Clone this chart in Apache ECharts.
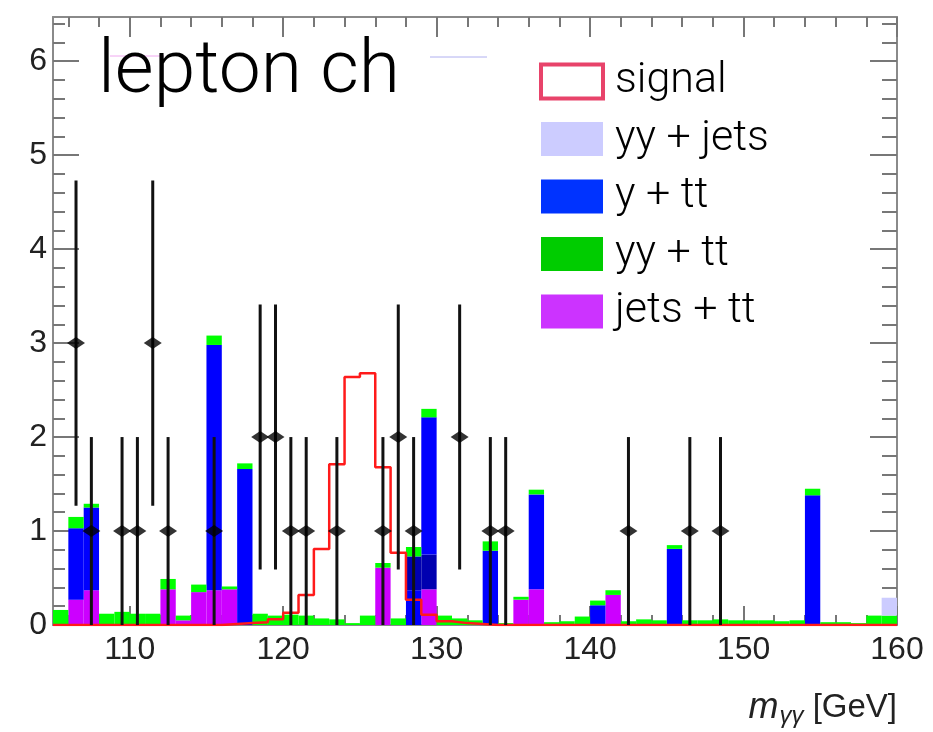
<!DOCTYPE html>
<html>
<head>
<meta charset="utf-8">
<script src="https://cdn.jsdelivr.net/npm/echarts@6/dist/echarts.min.js"></script>
<style>html,body{margin:0;padding:0;background:#fff}#c{width:933px;height:732px}</style>
</head>
<body>
<div id="c"></div>
<script>
// ---- bin edges (GeV), 55 bins of 1 GeV ----
const binEdges = [105,106,107,108,109,110,111,112,113,114,
                  115,116,117,118,119,120,121,122,123,124,
                  125,126,127,128,129,130,131,132,133,134,
                  135,136,137,138,139,140,141,142,143,144,
                  145,146,147,148,149,150,151,152,153,154,
                  155,156,157,158,159,160];

// ---- stacked backgrounds (per-bin contributions) ----
const jetsTT = [0,0.27,0.37,0,0,0,0,0.38,0.05,0.35,
                0.37,0.38,0,0,0,0,0,0,0,0,
                0,0.61,0,0,0.38,0,0,0,0,0,
                0.27,0.38,0,0,0,0,0.32,0,0,0,
                0,0,0,0,0,0,0,0,0,0,
                0,0,0,0,0];
const lowBlueBkg = [0,0,0,0,0,0,0,0,0,0,
                    0,0,0,0,0,0,0,0,0,0,
                    0,0,0,0.37,0,0,0,0,0,0,
                    0,0,0,0,0,0,0,0,0,0,
                    0,0,0,0,0,0,0,0,0,0,
                    0,0,0,0,0];
const darkBlueBkg = [0,0,0,0,0,0,0,0,0,0,
                     0,0,0,0,0,0,0,0,0,0,
                     0,0,0,0.36,0.37,0,0,0,0,0,
                     0,0,0,0,0,0,0,0,0,0,
                     0,0,0,0,0,0,0,0,0,0,
                     0,0,0,0,0];
const yTT = [0,0.76,0.88,0,0,0,0,0,0,0,
             2.61,0,1.66,0,0,0,0,0,0,0,
             0,0,0,0,1.46,0,0,0,0.79,0,
             0,1.01,0,0,0,0.21,0,0,0,0,
             0.81,0,0,0,0,0,0,0,0,1.38,
             0,0,0,0,0];
const yyTT = [0.16,0.12,0.04,0.12,0.14,0.12,0.12,0.11,0.05,0.08,
              0.10,0.03,0.06,0.12,0.10,0.11,0.10,0.07,0.06,0.02,
              0.10,0.05,0.07,0.10,0.09,0.10,0.07,0.05,0.10,0.02,
              0.03,0.05,0.03,0.04,0.09,0.05,0.05,0.04,0.06,0.05,
              0.04,0.05,0.05,0.06,0.05,0.05,0.05,0.04,0.05,0.07,
              0.03,0.03,0.02,0.10,0.10];
const yyJets = [0,0,0,0,0,0,0,0,0,0,
                0,0,0,0,0,0,0,0,0,0,
                0,0,0,0,0,0,0,0,0,0,
                0,0,0,0,0,0,0,0,0,0,
                0,0,0,0,0,0,0,0,0,0,
                0,0,0,0,0.19];

// ---- signal (outline histogram) ----
const signal = [0,0,0,0,0,0,0,0,0,0,
                0,0.01,0.02,0.03,0.06,0.13,0.32,0.81,1.71,2.64,
                2.68,1.68,0.77,0.27,0.11,0.04,0.02,0.01,0,0,
                0,0,0,0,0,0,0,0,0,0,
                0,0,0,0,0,0,0,0,0,0,
                0,0,0,0,0];

// ---- data points ----
const dataX = [106.5,107.5,109.5,110.5,111.5,112.5,115.5,118.5,119.5,120.5,121.5,
               123.5,126.5,127.5,128.5,131.5,133.5,134.5,142.5,146.5,148.5];
const dataY = [3,1,1,1,3,1,1,2,2,1,1,1,1,2,1,2,1,1,1,1,1];
const dataErrLo = [1.73,1,1,1,1.73,1,1,1.41,1.41,1,1,1,1,1.41,1,1.41,1,1,1,1,1];
const dataErrHi = [1.73,1,1,1,1.73,1,1,1.41,1.41,1,1,1,1,1.41,1,1.41,1,1,1,1,1];

// ---- ticks ----
const xMajorTicks = [110,120,130,140,150,160];
const xMinorTicks = [106,108,112,114,116,118,122,124,126,128,132,134,136,138,142,144,146,148,152,154,156,158];
const yMajorTicks = [0,1,2,3,4,5,6];
const yMinorTicks = [0.2,0.4,0.6,0.8,1.2,1.4,1.6,1.8,2.2,2.4,2.6,2.8,3.2,3.4,3.6,3.8,
                     4.2,4.4,4.6,4.8,5.2,5.4,5.6,5.8,6.2,6.4];

const X_MIN = 105, X_MAX = 160, Y_MIN = 0, Y_MAX = 6.47;
const LIGHT_FONT = 'Roboto';
const AXIS_FONT = 'Liberation Sans';
const FRAME = '#8a8a8a';

const stackDefs = [
  {name:'jets + tt', values:jetsTT, color:'#cc00ff'},
  {name:'bkg-low', values:lowBlueBkg, color:'#0000ff'},
  {name:'bkg-dark', values:darkBlueBkg, color:'#0000b0'},
  {name:'y + tt', values:yTT, color:'#0000ff'},
  {name:'yy + tt', values:yyTT, color:'#00ff00'},
  {name:'yy + jets', values:yyJets, color:'#ccccff'}
];

const base = binEdges.slice(0, -1).map(() => 0);
const barSeries = stackDefs.map(def => {
  const data = [];
  def.values.forEach((v, i) => {
    if (v > 0) data.push([binEdges[i], binEdges[i + 1], base[i], base[i] + v]);
    base[i] += v;
  });
  const col = def.color;
  return {
    type:'custom', name:def.name, xAxisIndex:0, yAxisIndex:0, silent:true, z:2,
    itemStyle:{color:col},
    encode:{x:[0,1], y:[2,3]},
    data:data,
    renderItem:(params, api) => {
      const p0 = api.coord([api.value(0), api.value(2)]);
      const p1 = api.coord([api.value(1), api.value(3)]);
      return {type:'rect', shape:{x:p0[0], y:p1[1], width:p1[0]-p0[0], height:p0[1]-p1[1]},
              style:{fill:col}};
    }
  };
});

const signalLine = binEdges.map((e, i) => [e, signal[Math.min(i, signal.length - 1)]]);

function xAxisDef(pos, ticks, len, withLabels, showLine) {
  return {
    type:'value', gridIndex:0, position:pos, min:X_MIN, max:X_MAX,
    axisLine:{show:showLine, onZero:false, lineStyle:{color:FRAME, width:2}},
    axisTick:{show:true, inside:true, length:len, customValues:ticks, lineStyle:{color:'#777', width:2}},
    axisLabel:withLabels ? {show:true, customValues:ticks, fontSize:32, color:'#222', margin:9, fontFamily:AXIS_FONT}
                         : {show:false},
    splitLine:{show:false}
  };
}
function yAxisDef(pos, ticks, len, withLabels, showLine) {
  return {
    type:'value', gridIndex:0, position:pos, min:Y_MIN, max:Y_MAX,
    axisLine:{show:showLine, onZero:false, lineStyle:{color:FRAME, width:2}},
    axisTick:{show:true, inside:true, length:len, customValues:ticks, lineStyle:{color:'#777', width:2}},
    axisLabel:withLabels ? {show:true, customValues:ticks, fontSize:32, color:'#222', margin:6, fontFamily:AXIS_FONT}
                         : {show:false},
    splitLine:{show:false}
  };
}

const option = {
  animation:false,
  backgroundColor:'#fff',
  grid:{left:53, right:36, top:17, bottom:107, containLabel:false},
  title:[
    {text:'lepton ch', left:98, top:36, padding:0,
     textStyle:{fontSize:75, fontWeight:300, fontFamily:LIGHT_FONT, color:'#000'}},
    {text:'{i|m}{s|γγ}{n| [GeV]}', right:36, top:688, padding:0,
     textStyle:{fontWeight:'normal', rich:{
       i:{fontSize:36, fontStyle:'italic', fontWeight:'normal', fontFamily:AXIS_FONT, color:'#222', lineHeight:40},
       s:{fontSize:24, fontStyle:'italic', fontWeight:'normal', fontFamily:AXIS_FONT, color:'#222', lineHeight:40, verticalAlign:'bottom', padding:[0,0,0,1]},
       n:{fontSize:33, fontWeight:'normal', fontFamily:AXIS_FONT, color:'#222', lineHeight:40}
     }}}
  ],
  legend:{
    orient:'vertical', left:539, top:60, padding:0,
    itemWidth:62, itemHeight:34, itemGap:14.5, selectedMode:false,
    textStyle:{fontSize:43, lineHeight:43, fontFamily:LIGHT_FONT, fontWeight:300, color:'#000', padding:[0,0,0,7]},
    data:[
      {name:'signal', icon:'rect', itemStyle:{color:'#ffffff', borderColor:'#e8436a', borderWidth:4}},
      {name:'yy + jets', icon:'rect', itemStyle:{color:'#ccccff', borderWidth:0}},
      {name:'y + tt', icon:'rect', itemStyle:{color:'#0033ff', borderWidth:0}},
      {name:'yy + tt', icon:'rect', itemStyle:{color:'#00cc00', borderWidth:0}},
      {name:'jets + tt', icon:'rect', itemStyle:{color:'#cc33ff', borderWidth:0}}
    ]
  },
  xAxis:[
    xAxisDef('bottom', xMajorTicks, 19, true, true),
    xAxisDef('bottom', xMinorTicks, 10, false, false),
    xAxisDef('top', xMajorTicks, 20, false, true),
    xAxisDef('top', xMinorTicks, 10, false, false)
  ],
  yAxis:[
    yAxisDef('left', yMajorTicks, 26, true, true),
    yAxisDef('left', yMinorTicks, 12, false, false),
    yAxisDef('right', yMajorTicks, 27, false, true),
    yAxisDef('right', yMinorTicks, 15, false, false)
  ],
  graphic:[
    {type:'line', silent:true, z:0, shape:{x1:110, y1:56, x2:164, y2:56}, style:{stroke:'#f0a8f0', lineWidth:1}},
    {type:'line', silent:true, z:0, shape:{x1:430, y1:57, x2:487, y2:57}, style:{stroke:'#b0b0f0', lineWidth:1}}
  ],
  series:[
    ...barSeries,
    {type:'line', name:'signal', xAxisIndex:0, yAxisIndex:0, step:'end', symbol:'none', z:3, silent:true,
     itemStyle:{color:'#ff1a1a'}, lineStyle:{color:'#ff1a1a', width:2.5}, data:signalLine},
    {type:'custom', name:'data-err', xAxisIndex:0, yAxisIndex:0, z:4, silent:true,
     encode:{x:0, y:[1,2]},
     data:dataX.map((x, i) => [x, dataY[i] - dataErrLo[i], dataY[i] + dataErrHi[i]]),
     renderItem:(params, api) => {
       const a = api.coord([api.value(0), api.value(1)]);
       const b = api.coord([api.value(0), api.value(2)]);
       return {type:'line', shape:{x1:a[0], y1:a[1], x2:b[0], y2:b[1]}, style:{stroke:'#111', lineWidth:3}};
     }},
    {type:'scatter', name:'data', xAxisIndex:0, yAxisIndex:0, z:5, silent:true,
     symbol:'diamond', symbolSize:[18,12], itemStyle:{color:'#000'},
     data:dataX.map((x, i) => [x, dataY[i]])}
  ]
};

const chart = echarts.init(document.getElementById('c'), null, {renderer:'canvas'});
chart.setOption(option);
</script>
</body>
</html>
